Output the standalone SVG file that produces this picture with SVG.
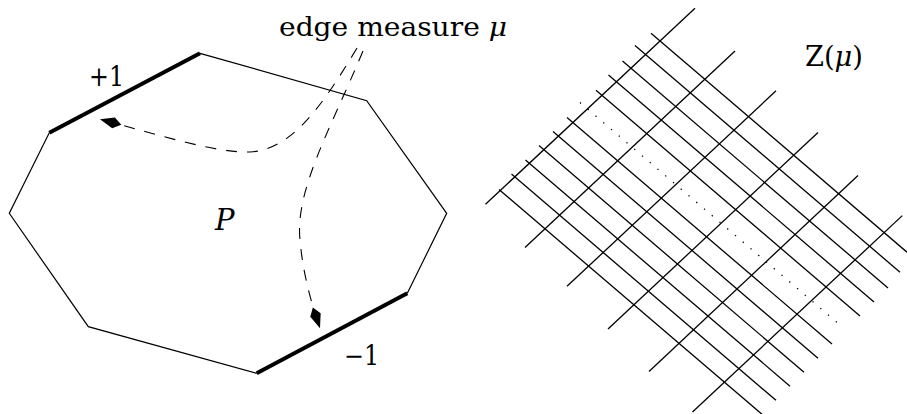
<svg xmlns="http://www.w3.org/2000/svg" width="907" height="414" viewBox="0 0 907 414">
  <style>
    .thin { fill: none; stroke: #000; stroke-width: 1.2; stroke-linejoin: miter; }
    .thick { fill: none; stroke: #000; stroke-width: 4; stroke-linecap: butt; }
    .dash { fill: none; stroke: #000; stroke-width: 1.1; stroke-dasharray: 11 10; }
    .grid line { stroke: #000; stroke-width: 1.3; }
    .dots { stroke: #000; stroke-width: 1.3; stroke-dasharray: 1.3 8.9; fill: none; }
    .lbl { font-family: "DejaVu Serif", "Liberation Serif", serif; fill: #000; }
    .it { font-style: italic; }
  </style>
  <defs>
    <marker id="kite" markerUnits="userSpaceOnUse" markerWidth="26" markerHeight="14" viewBox="-24 -7 26 14" refX="0" refY="0" orient="auto">
      <path d="M0,0 L-14,-5.5 L-22,0 L-14,5.5 Z" fill="#000"/>
    </marker>
  </defs>

  <g id="polygon-P">
    <polyline class="thin" points="200,53.3 366.7,100.7 446.7,213.3 407.3,293.3"/>
    <polyline class="thin" points="256.7,373.3 88.3,326.7 9.3,213.3 49.3,132.7"/>
    <line id="edge-plus" class="thick" x1="49.3" y1="132.7" x2="200" y2="53.3"/>
    <line id="edge-minus" class="thick" x1="407.3" y1="293.3" x2="256.7" y2="373.3"/>
    <text class="lbl it" x="215" y="230" font-size="29">P</text>
    <text class="lbl" x="89" y="86" font-size="27" textLength="35" lengthAdjust="spacingAndGlyphs">+1</text>
    <text class="lbl" x="344" y="365" font-size="27" textLength="35" lengthAdjust="spacingAndGlyphs">−1</text>
  </g>

  <g id="label-edge-measure">
    <text class="lbl" x="279" y="36" font-size="26" textLength="228" lengthAdjust="spacingAndGlyphs">edge measure <tspan class="it">μ</tspan></text>
  </g>

  <g id="connectors">
    <path class="dash" d="M357,48 C320,110 290,150 250,152 C215,153 160,135 100,119.3" marker-end="url(#kite)"/>
    <path class="dash" d="M363,51 C330,130 295,190 300,240 C303,275 312,305 320,328.3" marker-end="url(#kite)"/>
  </g>

  <g id="zonotope" class="grid">
    <line x1="651" y1="33.3" x2="907" y2="252.2"/>
    <line x1="635" y1="45.6" x2="900" y2="272.2"/>
    <line x1="622.5" y1="61" x2="888" y2="288"/>
    <line x1="608.5" y1="75" x2="874" y2="302"/>
    <line x1="596" y1="90.3" x2="860" y2="316"/>
    <line x1="567" y1="117.5" x2="832" y2="344.1"/>
    <line x1="553" y1="131.6" x2="818" y2="358.2"/>
    <line x1="539" y1="145.6" x2="804" y2="372.2"/>
    <line x1="525.5" y1="160.1" x2="790" y2="386.2"/>
    <line x1="511.5" y1="174.1" x2="776" y2="400.3"/>
    <line x1="499" y1="189.5" x2="762" y2="414.3"/>

    <line x1="485.5" y1="204.3" x2="695" y2="8.3"/>
    <line x1="525" y1="247.5" x2="735" y2="51"/>
    <line x1="567" y1="286.3" x2="776" y2="90.8"/>
    <line x1="608" y1="329" x2="818" y2="132.5"/>
    <line x1="649" y1="371.5" x2="858" y2="175.5"/>
    <line x1="692.5" y1="412" x2="902.3" y2="215.6"/>

    <line class="dots" x1="580" y1="102.6" x2="842" y2="326.7"/>
    <text class="lbl" x="805" y="66" font-size="27" textLength="58" lengthAdjust="spacingAndGlyphs">Z(<tspan class="it">μ</tspan>)</text>
  </g>
</svg>
